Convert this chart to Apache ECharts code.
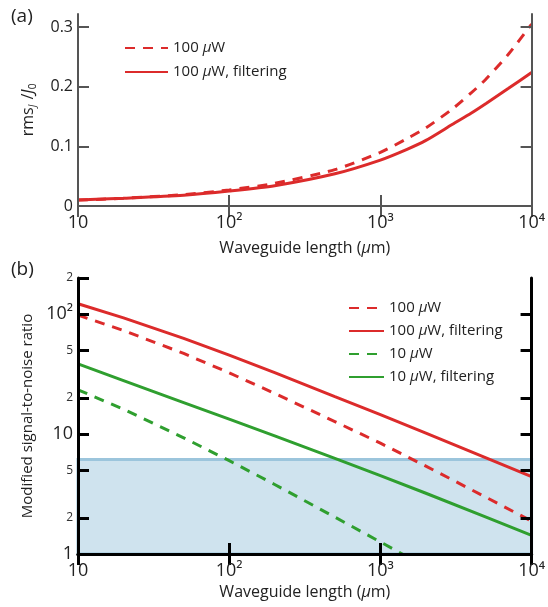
<!DOCTYPE html>
<html>
<head>
<meta charset="utf-8">
<script src="https://cdn.jsdelivr.net/npm/echarts@6/dist/echarts.min.js"></script>
<style>
    html, body { margin: 0; padding: 0; background: #fff; }
    #chart { width: 548px; height: 607px; }
</style>
</head>
<body>
<div id="chart"></div>
<script>
// (a) 归一化电流噪声 vs 波导长度
const lenA = [10, 20, 50, 100, 200, 500, 1000, 1500, 2000, 3000, 4000, 5000, 7000, 10000];
const rms100 = [0.010, 0.013, 0.019, 0.027, 0.038, 0.061, 0.090, 0.113, 0.131, 0.163, 0.190, 0.213, 0.254, 0.305];
const rms100Filt = [0.010, 0.013, 0.018, 0.025, 0.034, 0.054, 0.077, 0.095, 0.110, 0.137, 0.156, 0.172, 0.197, 0.224];

// (b) 信噪比 vs 波导长度
const lenB = [10, 20, 50, 100, 200, 500, 1000, 2000, 5000, 10000];
const snr100 = [98, 73, 47, 32.4, 21.8, 12.7, 8.4, 5.4, 2.97, 1.88];
const snr100Filt = [122, 93, 62.7, 45.5, 32.5, 20.5, 14.5, 10.2, 6.34, 4.42];
const snr10 = [23.4, 16.1, 9.3, 6.0, 3.8, 2.03, 1.26, 0.78];
const snr10Filt = [38.4, 27.9, 18.3, 13.3, 9.66, 6.28, 4.51, 3.21, 2.03, 1.43];
const snrThreshold = 6.15;

// 刻度
const xTickLabels = { 10: '10', 100: '10²', 1000: '10³', 10000: '10⁴' };
const yTicksA = [0, 0.1, 0.2, 0.3];
const yTicksB = [1, 2, 5, 10, 20, 50, 100, 200];
const yTickLabelsB = ['1', '2', '5', '10', '2', '5', '10²', '2'];
const yTickMajorB = [true, false, false, true, false, false, true, false];

const FONT = '"Open Sans", "Noto Sans", sans-serif';
const RED = '#dc2b2b';
const GREEN = '#2f9f2f';
const DASH = [10, 8];
const yMaxA = 0.322;
const yMaxB = Math.log10(200);

const chart = echarts.init(document.getElementById('chart'));

function pairs(xs, ys, logY) {
    return ys.map((v, i) => [xs[i], logY ? Math.log10(v) : v]);
}

function xAxisOf(gridIndex, pos, color, width, showLabel, nameGap) {
    return {
        type: 'log', logBase: 10, gridIndex: gridIndex, position: pos,
        min: 10, max: 10000, z: 10,
        name: showLabel ? 'Waveguide length ({i|μ}m)' : '',
        nameLocation: 'middle', nameGap: nameGap,
        nameTextStyle: {
            fontSize: 16, color: '#222', fontFamily: FONT,
            rich: { i: { fontSize: 16, fontStyle: 'italic', color: '#222', fontFamily: FONT } }
        },
        axisLine: { lineStyle: { color: color, width: width } },
        axisTick: { show: true, inside: true, length: 11, lineStyle: { color: color, width: width } },
        axisLabel: {
            show: showLabel, margin: 8, fontSize: 18, color: '#222', fontFamily: FONT,
            showMinLabel: true, showMaxLabel: true,
            formatter: function (v) { return xTickLabels[Math.round(v)] || ''; }
        },
        splitLine: { show: false }
    };
}

function lineSeries(name, xi, data, color, dashed, smooth) {
    return {
        name: name, type: 'line', xAxisIndex: xi, yAxisIndex: xi,
        data: data, symbol: 'none', smooth: smooth,
        lineStyle: { color: color, width: 3, type: dashed ? DASH : 'solid' },
        itemStyle: { color: color }
    };
}

const legendText = {
    fontSize: 15, color: '#222', fontFamily: FONT, lineHeight: 16,
    rich: { i: { fontSize: 15, fontStyle: 'italic', color: '#222', fontFamily: FONT } }
};

const series = [
    lineSeries('100 μW', 0, pairs(lenA, rms100, false), RED, true, 0.25),
    lineSeries('100 μW, filtering', 0, pairs(lenA, rms100Filt, false), RED, false, 0.25),
    lineSeries('100 μW', 2, pairs(lenB, snr100, true), RED, true, false),
    lineSeries('100 μW, filtering', 2, pairs(lenB, snr100Filt, true), RED, false, false),
    lineSeries('10 μW', 2, pairs(lenB, snr10, true), GREEN, true, false),
    lineSeries('10 μW, filtering', 2, pairs(lenB, snr10Filt, true), GREEN, false, false)
];

// 阴影区域（信噪比阈值以下）
series[2].markArea = {
    silent: true,
    label: { show: false },
    itemStyle: { color: '#cfe3ee', borderColor: '#9cc5dc', borderWidth: 3 },
    data: [[{ yAxis: 0 }, { yAxis: Math.log10(snrThreshold) }]]
};

const option = {
    animation: false,
    backgroundColor: '#fff',
    title: [
        { text: '(a)', left: 6, top: 2, textStyle: { fontSize: 19, fontWeight: 'normal', color: '#222', fontFamily: FONT } },
        { text: '(b)', left: 6, top: 255, textStyle: { fontSize: 19, fontWeight: 'normal', color: '#222', fontFamily: FONT } }
    ],
    grid: [
        { left: 78, right: 12, top: 14, height: 192 },
        { left: 78, right: 12, top: 278, height: 276 }
    ],
    legend: [
        {
            data: ['100 μW', '100 μW, filtering'],
            orient: 'vertical', left: 119, top: 35,
            itemWidth: 43, itemHeight: 16, itemGap: 8,
            itemStyle: { opacity: 0 },
            formatter: n => n.replace('μ', '{i|μ}'),
            textStyle: legendText
        },
        {
            data: ['100 μW', '100 μW, filtering', '10 μW', '10 μW, filtering'],
            orient: 'vertical', left: 343, top: 295,
            itemWidth: 35, itemHeight: 16, itemGap: 7,
            itemStyle: { opacity: 0 },
            formatter: n => n.replace('μ', '{i|μ}'),
            textStyle: legendText
        }
    ],
    xAxis: [
        xAxisOf(0, 'bottom', '#555', 2, true, 34),
        xAxisOf(0, 'top', '#555', 2, false, 0),
        xAxisOf(1, 'bottom', '#000', 3, true, 30),
        xAxisOf(1, 'top', '#000', 3, false, 0)
    ],
    yAxis: [
        {
            type: 'value', gridIndex: 0, position: 'left', min: 0, max: yMaxA, z: 10,
            name: '{r|rms}{s|J}{r| /}{i|J}{s0|0}',
            nameLocation: 'middle', nameGap: 40,
            nameTextStyle: {
                color: '#222', fontFamily: FONT, fontSize: 16,
                rich: {
                    r: { fontSize: 16, color: '#222', fontFamily: FONT },
                    i: { fontSize: 16, fontStyle: 'italic', color: '#222', fontFamily: FONT },
                    s: { fontSize: 10, fontStyle: 'italic', color: '#222', fontFamily: FONT, padding: [9, 1, 0, 0] },
                    s0: { fontSize: 10, color: '#222', fontFamily: FONT, padding: [9, 0, 0, 0] }
                }
            },
            axisLine: { show: true, lineStyle: { color: '#555', width: 2 } },
            axisTick: { show: true, inside: true, length: 11, customValues: yTicksA, lineStyle: { color: '#555', width: 2 } },
            axisLabel: {
                margin: 5, fontSize: 16, color: '#222', fontFamily: FONT, customValues: yTicksA,
                formatter: v => (v === 0 ? '0' : v.toFixed(1))
            },
            splitLine: { show: false }
        },
        {
            type: 'value', gridIndex: 0, position: 'right', min: 0, max: yMaxA, z: 10,
            axisLine: { show: true, lineStyle: { color: '#555', width: 2 } },
            axisTick: { show: true, inside: true, length: 11, customValues: yTicksA.slice(1), lineStyle: { color: '#555', width: 2 } },
            axisLabel: { show: false },
            splitLine: { show: false }
        },
        {
            type: 'value', gridIndex: 1, position: 'left', min: 0, max: yMaxB, z: 10,
            name: 'Modified signal-to-noise ratio',
            nameLocation: 'middle', nameGap: 42,
            nameTextStyle: { fontSize: 15, color: '#222', fontFamily: FONT },
            axisLine: { show: true, lineStyle: { color: '#000', width: 3 } },
            axisTick: { show: true, inside: true, length: 11, customValues: yTicksB.map(Math.log10), lineStyle: { color: '#000', width: 3 } },
            axisLabel: {
                margin: 5, color: '#222', fontFamily: FONT,
                customValues: yTicksB.map(Math.log10),
                formatter: function (v) {
                    const i = yTicksB.findIndex(t => Math.abs(Math.log10(t) - v) < 1e-6);
                    if (i < 0) return '';
                    return yTickMajorB[i] ? '{big|' + yTickLabelsB[i] + '}' : '{small|' + yTickLabelsB[i] + '}';
                },
                rich: {
                    big: { fontSize: 18, color: '#222', fontFamily: FONT },
                    small: { fontSize: 12, color: '#333', fontFamily: FONT }
                }
            },
            splitLine: { show: false }
        },
        {
            type: 'value', gridIndex: 1, position: 'right', min: 0, max: yMaxB, z: 10,
            axisLine: { show: true, lineStyle: { color: '#000', width: 3 } },
            axisTick: { show: true, inside: true, length: 11, customValues: yTicksB.slice(1, -1).map(Math.log10), lineStyle: { color: '#000', width: 3 } },
            axisLabel: { show: false },
            splitLine: { show: false }
        }
    ],
    series: series
};

chart.setOption(option);
</script>
</body>
</html>
